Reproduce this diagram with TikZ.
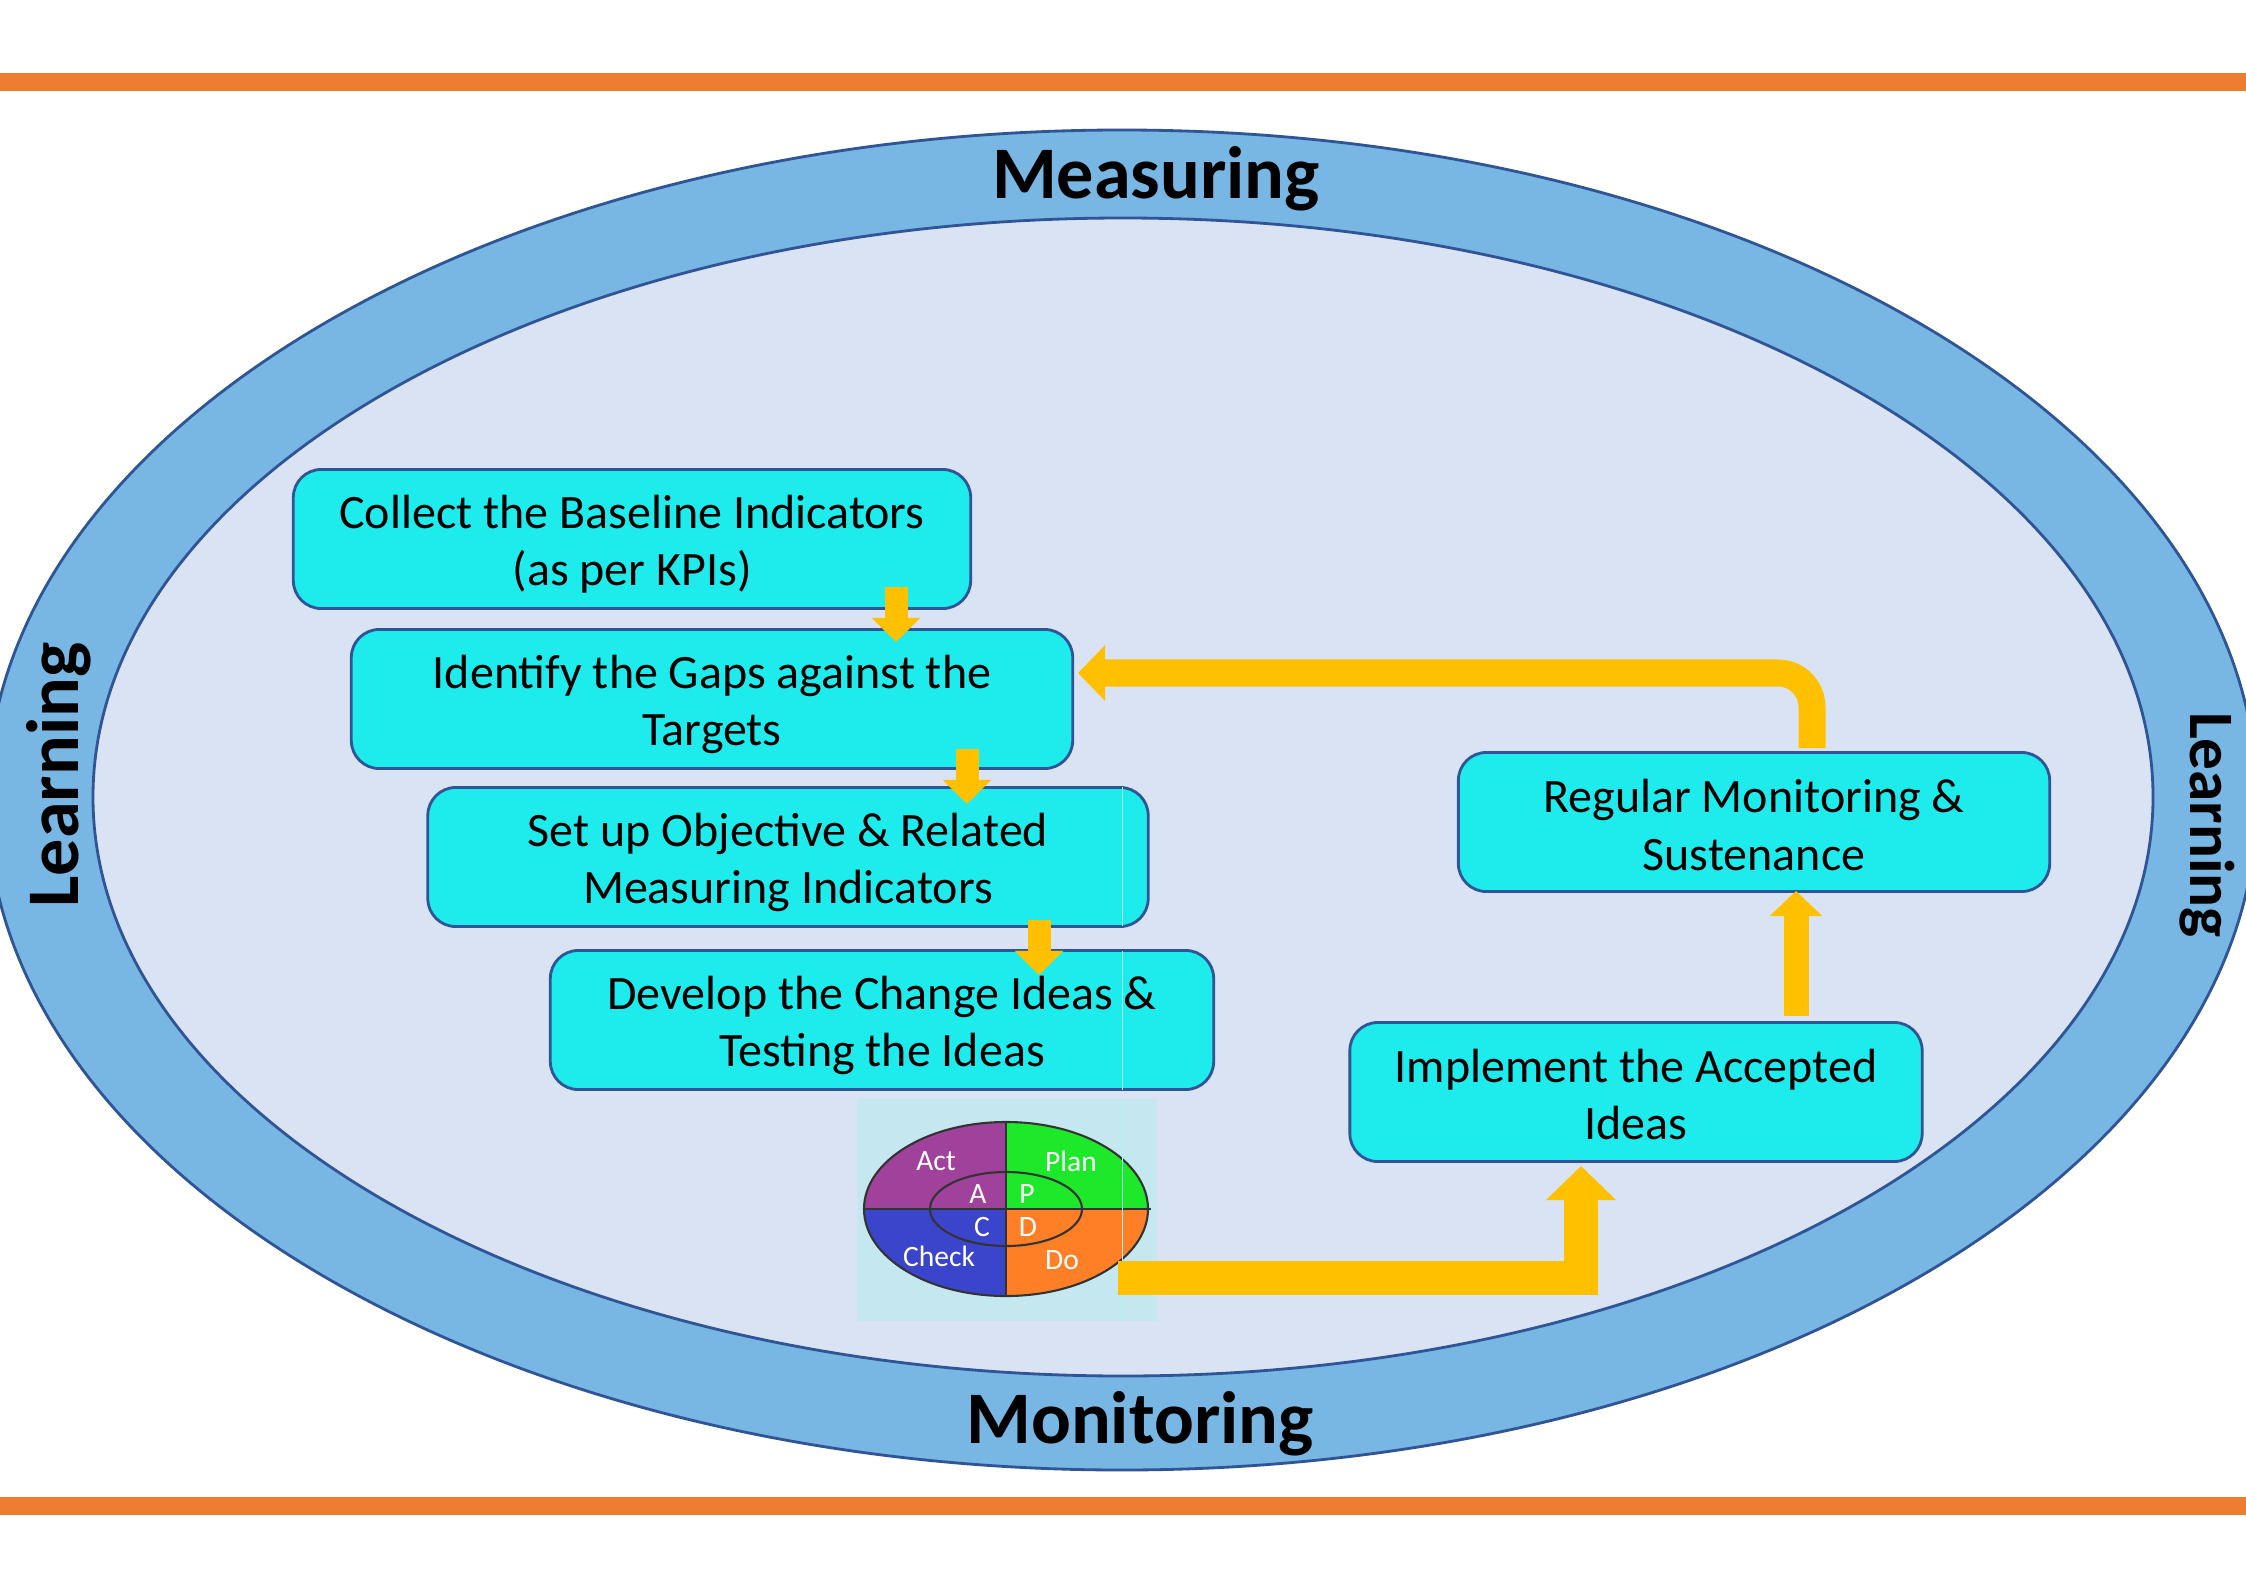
\documentclass[tikz,border=0pt]{standalone}
\usepackage{fontspec}
\setmainfont{Carlito}
\usepackage{tikz}
\usetikzlibrary{arrows.meta,positioning}

\definecolor{barcol}{HTML}{ED7D31}
\definecolor{ringcol}{HTML}{78B6E3}
\definecolor{innercol}{HTML}{DAE3F3}
\definecolor{edgecol}{HTML}{2F5597}
\definecolor{boxcol}{HTML}{1EEBEB}
\definecolor{flowcol}{HTML}{FFC000}
\definecolor{pdcabg}{HTML}{C5E8F0}
\definecolor{actcol}{HTML}{A0429C}
\definecolor{plancol}{HTML}{1EE82A}
\definecolor{checkcol}{HTML}{3B45CB}
\definecolor{docol}{HTML}{FF7F27}

\newcommand{\lowline}{\rule{0pt}{12.6pt}}
\newcommand{\midline}{\rule{0pt}{11pt}}

\tikzset{
  step box/.style={draw=edgecol,fill=boxcol,line width=0.8pt,rounded corners=0.28cm,
    minimum height=1.39cm,align=center,font=\fontsize{13.65}{16.2}\selectfont,inner sep=0pt},
  ring label/.style={font=\fontsize{21.1}{24}\selectfont\bfseries,inner sep=0pt},
  pdca label/.style={text=white,font=\fontsize{8.4}{10}\selectfont,inner sep=0pt},
  pdca line/.style={black!80,line width=0.6pt},
  seam/.style={white!60!boxcol,line width=0.2pt},
  small flow/.style={draw=flowcol,line width=0.23cm,-{Triangle[length=0.24cm,width=0.47cm]}},
}

\begin{document}
\begin{tikzpicture}[x=0.01cm,y=-0.01cm]
  \useasboundingbox (0,0) rectangle (2246,1588);
  \fill[white] (0,0) rectangle (2246,1588);

  % bars
  \fill[barcol] (0,73) rectangle (2246,91);
  \fill[barcol] (0,1497) rectangle (2246,1515);

  % ring
  \draw[draw=edgecol,fill=ringcol,line width=0.8pt] (1122,800) ellipse [x radius=1135,y radius=670];
  \draw[draw=edgecol,fill=innercol,line width=0.8pt] (1123,797) ellipse [x radius=1030,y radius=579];
  \node[ring label,anchor=base] (measure) at (1156,199) {Measuring};
  \node[ring label,anchor=base] (monitor) at (1140,1443) {Monitoring};
  \node[ring label,anchor=base,rotate=90] (learnl) at (78,775) {Learning};
  \node[ring label,anchor=base,rotate=-90,font=\fontsize{18}{20}\selectfont\bfseries] (learnr) at (2190,825) {Learning};

  % steps
  \node[step box,minimum width=6.77cm] (collect) at (632,539) {\lowline Collect the Baseline Indicators\\(as per KPIs)};
  \node[step box,minimum width=7.21cm] (gaps) at (712,699) {\lowline Identify the Gaps against the\\Targets};
  \node[step box,minimum width=7.2cm] (objective) at (788,857) {\lowline Set up Objective \& Related\\Measuring Indicators};
  \node[step box,minimum width=6.63cm] (develop) at (882,1020) {\lowline Develop the Change Ideas \&\\Testing the Ideas};
  \node[step box,minimum width=5.72cm] (implement) at (1636,1092) {\midline Implement the Accepted\\Ideas};
  \node[step box,minimum width=5.91cm] (regular) at (1754,822) {\midline Regular Monitoring \&\\[0.3pt]Sustenance};

  % pdca picture
  \fill[pdcabg] (857,1099) rectangle (1157,1321);
  \coordinate (pdca) at (1006,1209);
  \begin{scope}
    \clip (pdca) ellipse [x radius=142,y radius=87];
    \fill[actcol] (pdca) rectangle (860,1118);
    \fill[plancol] (pdca) rectangle (1152,1118);
    \fill[docol] (pdca) rectangle (1152,1300);
    \fill[checkcol] (pdca) rectangle (860,1300);
  \end{scope}
  \draw[pdca line] (pdca) ellipse [x radius=142,y radius=87];
  \draw[pdca line] (1006,1209) ellipse [x radius=76,y radius=37];
  \draw[pdca line] (864,1209) -- (1151,1209);
  \draw[pdca line] (1006,1122) -- (1006,1296);
  \node[pdca label] (act) at (936,1161) {Act};
  \node[pdca label] (plan) at (1071,1161) {Plan};
  \node[pdca label] (check) at (939,1256) {Check};
  \node[pdca label] (do) at (1062,1260) {Do};
  \node[pdca label] (a) at (978,1194) {A};
  \node[pdca label] (p) at (1027,1194) {P};
  \node[pdca label] (c) at (982,1227) {C};
  \node[pdca label] (d) at (1028,1227) {D};

  % seam
  \draw[seam] (1122,787) -- (1122,926);
  \draw[seam] (1122,951) -- (1122,1090);
  \draw[seam] (1122,1099) -- (1122,1321);

  % short arrows
  \coordinate (s1) at (896,587);
  \coordinate (e1) at (896,642);
  \coordinate (s2) at (967,749);
  \coordinate (e2) at (967,804);
  \coordinate (s3) at (1039,920);
  \coordinate (e3) at (1039,975);
  \draw[small flow] (s1) -- (e1);
  \draw[small flow] (s2) -- (e2);
  \draw[small flow] (s3) -- (e3);

  % long arrows
  \coordinate (r1) at (1118,1278);
  \coordinate (r2) at (1581,1278);
  \coordinate (r3) at (1581,1166);
  \draw[draw=flowcol,line width=0.34cm,-{Triangle[length=0.34cm,width=0.68cm]}] (r1) -- (r2) -- (r3);
  \coordinate (u1) at (1796,1016);
  \coordinate (u2) at (1796,891);
  \draw[draw=flowcol,line width=0.25cm,-{Triangle[length=0.25cm,width=0.51cm]}] (u1) -- (u2);
  \coordinate (b1) at (1812,748);
  \coordinate (b2) at (1078,673);
  \draw[draw=flowcol,line width=0.27cm,rounded corners=0.34cm,-{Triangle[length=0.27cm,width=0.54cm]}] (b1) |- (b2);
\end{tikzpicture}
\end{document}
